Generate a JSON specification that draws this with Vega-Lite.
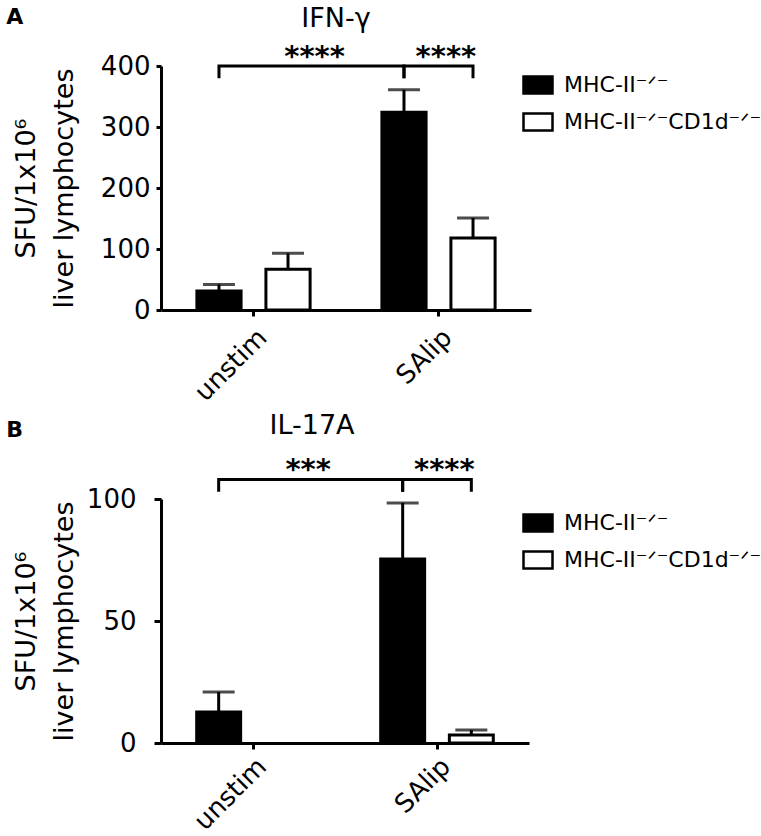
{
  "$schema": "https://vega.github.io/schema/vega-lite/v6.json",
  "padding": {"left": 6, "top": 5, "right": 0, "bottom": 0},
  "config": {
    "font": "DejaVu Sans",
    "view": {"stroke": null},
    "axis": {
      "grid": false,
      "domainColor": "black",
      "domainWidth": 3,
      "tickColor": "black",
      "tickWidth": 3,
      "labelColor": "black",
      "titleColor": "black",
      "labelFontSize": 26,
      "titleFontSize": 27,
      "titleFontWeight": "normal"
    },
    "title": {"fontSize": 27, "fontWeight": "normal", "color": "black"},
    "legend": {
      "orient": "none",
      "title": null,
      "symbolType": "M-1,-0.59H1V0.59H-1Z",
      "symbolSize": 841,
      "symbolStrokeColor": "black",
      "symbolStrokeWidth": 2.5,
      "labelFontSize": 22,
      "labelColor": "black",
      "labelLimit": 400,
      "labelOffset": 10,
      "rowPadding": 7
    }
  },
  "datasets": {
    "ifng": [
      {"group": "unstim", "genotype": "MHC-II⁻ᐟ⁻", "mean": 31, "upper": 42},
      {"group": "unstim", "genotype": "MHC-II⁻ᐟ⁻CD1d⁻ᐟ⁻", "mean": 67, "upper": 93},
      {"group": "SAlip", "genotype": "MHC-II⁻ᐟ⁻", "mean": 324, "upper": 361},
      {"group": "SAlip", "genotype": "MHC-II⁻ᐟ⁻CD1d⁻ᐟ⁻", "mean": 118, "upper": 151}
    ],
    "ifng_brackets": [
      {"bracket": "b1", "ord": 1, "group": "unstim", "genotype": "MHC-II⁻ᐟ⁻", "value": 380},
      {"bracket": "b1", "ord": 2, "group": "unstim", "genotype": "MHC-II⁻ᐟ⁻", "value": 400},
      {"bracket": "b1", "ord": 3, "group": "SAlip", "genotype": "MHC-II⁻ᐟ⁻", "value": 400},
      {"bracket": "b1", "ord": 4, "group": "SAlip", "genotype": "MHC-II⁻ᐟ⁻", "value": 380},
      {"bracket": "b2", "ord": 1, "group": "SAlip", "genotype": "MHC-II⁻ᐟ⁻", "value": 380},
      {"bracket": "b2", "ord": 2, "group": "SAlip", "genotype": "MHC-II⁻ᐟ⁻", "value": 400},
      {"bracket": "b2", "ord": 3, "group": "SAlip", "genotype": "MHC-II⁻ᐟ⁻CD1d⁻ᐟ⁻", "value": 400},
      {"bracket": "b2", "ord": 4, "group": "SAlip", "genotype": "MHC-II⁻ᐟ⁻CD1d⁻ᐟ⁻", "value": 380}
    ],
    "ifng_stars": [
      {"pair": "stim", "group": "unstim", "value": 400, "label": "****"},
      {"pair": "genotype", "group": "SAlip", "value": 400, "label": "****"}
    ],
    "il17": [
      {"group": "unstim", "genotype": "MHC-II⁻ᐟ⁻", "mean": 12.7, "upper": 20.9},
      {"group": "unstim", "genotype": "MHC-II⁻ᐟ⁻CD1d⁻ᐟ⁻", "mean": 0, "upper": 0},
      {"group": "SAlip", "genotype": "MHC-II⁻ᐟ⁻", "mean": 75.4, "upper": 98.4},
      {"group": "SAlip", "genotype": "MHC-II⁻ᐟ⁻CD1d⁻ᐟ⁻", "mean": 3.3, "upper": 5.3}
    ],
    "il17_brackets": [
      {"bracket": "b1", "ord": 1, "group": "unstim", "genotype": "MHC-II⁻ᐟ⁻", "value": 103},
      {"bracket": "b1", "ord": 2, "group": "unstim", "genotype": "MHC-II⁻ᐟ⁻", "value": 108},
      {"bracket": "b1", "ord": 3, "group": "SAlip", "genotype": "MHC-II⁻ᐟ⁻", "value": 108},
      {"bracket": "b1", "ord": 4, "group": "SAlip", "genotype": "MHC-II⁻ᐟ⁻", "value": 103},
      {"bracket": "b2", "ord": 1, "group": "SAlip", "genotype": "MHC-II⁻ᐟ⁻", "value": 103},
      {"bracket": "b2", "ord": 2, "group": "SAlip", "genotype": "MHC-II⁻ᐟ⁻", "value": 108},
      {"bracket": "b2", "ord": 3, "group": "SAlip", "genotype": "MHC-II⁻ᐟ⁻CD1d⁻ᐟ⁻", "value": 108},
      {"bracket": "b2", "ord": 4, "group": "SAlip", "genotype": "MHC-II⁻ᐟ⁻CD1d⁻ᐟ⁻", "value": 103}
    ],
    "il17_stars": [
      {"pair": "stim", "group": "unstim", "value": 108, "label": "***"},
      {"pair": "genotype", "group": "SAlip", "value": 108, "label": "****"}
    ]
  },
  "spacing": 6,
  "resolve": {"scale": {"fill": "independent", "y": "independent", "x": "independent", "xOffset": "independent"}},
  "vconcat": [
    {
      "title": {"text": "A", "anchor": "start", "fontWeight": "bold", "fontSize": 22, "offset": -24, "dx": -6},
      "resolve": {"scale": {"fill": "independent"}},
      "vconcat": [
        {
          "title": {"text": "IFN-γ", "frame": "group", "offset": 10, "dx": -10},
          "width": 370,
          "height": 244,
          "layer": [
            {
              "data": {"name": "ifng"},
              "mark": {"type": "bar", "stroke": "black", "strokeWidth": 3},
              "encoding": {
                "x": {"field": "group", "type": "nominal", "sort": ["unstim", "SAlip"],
                      "scale": {"paddingInner": 0, "paddingOuter": 0},
                      "axis": {"title": null, "labelAngle": -45, "labelFontSize": 26, "tickSize": 6, "labelPadding": 8}},
                "xOffset": {"field": "genotype", "type": "nominal", "sort": ["MHC-II⁻ᐟ⁻", "MHC-II⁻ᐟ⁻CD1d⁻ᐟ⁻"],
                            "scale": {"paddingInner": 0.36, "paddingOuter": 0.52}},
                "y": {"field": "mean", "type": "quantitative", "scale": {"domain": [0, 400], "nice": false},
                      "axis": {"values": [0, 100, 200, 300, 400], "tickSize": 5, "labelPadding": 6,
                               "title": ["SFU/1x10⁶", "liver lymphocytes"], "titlePadding": 22, "titleLineHeight": 38}},
                "fill": {"field": "genotype", "type": "nominal",
                         "scale": {"domain": ["MHC-II⁻ᐟ⁻", "MHC-II⁻ᐟ⁻CD1d⁻ᐟ⁻"], "range": ["black", "white"]},
                         "legend": {"legendX": 361, "legendY": 3}}
              }
            },
            {
              "data": {"name": "ifng"},
              "mark": {"type": "rule", "color": "black", "strokeWidth": 3},
              "encoding": {
                "x": {"field": "group", "type": "nominal", "sort": ["unstim", "SAlip"]},
                "xOffset": {"field": "genotype", "type": "nominal", "sort": ["MHC-II⁻ᐟ⁻", "MHC-II⁻ᐟ⁻CD1d⁻ᐟ⁻"]},
                "y": {"field": "mean", "type": "quantitative", "scale": {"domain": [0, 400], "nice": false}},
                "y2": {"field": "upper"}
              }
            },
            {
              "data": {"name": "ifng"},
              "mark": {"type": "tick", "color": "black", "thickness": 3, "size": 32},
              "encoding": {
                "x": {"field": "group", "type": "nominal", "sort": ["unstim", "SAlip"]},
                "xOffset": {"field": "genotype", "type": "nominal", "sort": ["MHC-II⁻ᐟ⁻", "MHC-II⁻ᐟ⁻CD1d⁻ᐟ⁻"]},
                "y": {"field": "upper", "type": "quantitative", "scale": {"domain": [0, 400], "nice": false}}
              }
            },
            {
              "data": {"name": "ifng_brackets"},
              "mark": {"type": "line", "color": "black", "strokeWidth": 3},
              "encoding": {
                "x": {"field": "group", "type": "nominal", "sort": ["unstim", "SAlip"]},
                "xOffset": {"field": "genotype", "type": "nominal", "sort": ["MHC-II⁻ᐟ⁻", "MHC-II⁻ᐟ⁻CD1d⁻ᐟ⁻"]},
                "y": {"field": "value", "type": "quantitative", "scale": {"domain": [0, 400], "nice": false}},
                "detail": {"field": "bracket"},
                "order": {"field": "ord"}
              }
            },
            {
              "data": {"name": "ifng_stars"},
              "transform": [{"filter": "datum.pair == 'stim'"}],
              "mark": {"type": "text", "fontSize": 29, "fontWeight": "bold", "align": "center", "baseline": "alphabetic"},
              "encoding": {
                "x": {"field": "group", "type": "nominal", "sort": ["unstim", "SAlip"], "bandPosition": 0.83},
                "y": {"field": "value", "type": "quantitative", "scale": {"domain": [0, 400], "nice": false}},
                "text": {"field": "label"}
              }
            },
            {
              "data": {"name": "ifng_stars"},
              "transform": [{"filter": "datum.pair == 'genotype'"}],
              "mark": {"type": "text", "fontSize": 29, "fontWeight": "bold", "align": "center", "baseline": "alphabetic"},
              "encoding": {
                "x": {"field": "group", "type": "nominal", "sort": ["unstim", "SAlip"], "bandPosition": 0.54},
                "y": {"field": "value", "type": "quantitative", "scale": {"domain": [0, 400], "nice": false}},
                "text": {"field": "label"}
              }
            }
          ]
        }
      ]
    },
    {
      "title": {"text": "B", "anchor": "start", "fontWeight": "bold", "fontSize": 22, "offset": -30, "dx": -6},
      "resolve": {"scale": {"fill": "independent"}},
      "vconcat": [
        {
          "title": {"text": "IL-17A", "frame": "group", "offset": 16, "dx": -33},
          "width": 368,
          "height": 244,
          "layer": [
            {
              "data": {"name": "il17"},
              "transform": [{"filter": "datum.mean > 0"}],
              "mark": {"type": "bar", "stroke": "black", "strokeWidth": 3},
              "encoding": {
                "x": {"field": "group", "type": "nominal", "sort": ["unstim", "SAlip"],
                      "scale": {"paddingInner": 0, "paddingOuter": 0},
                      "axis": {"title": null, "labelAngle": -45, "labelFontSize": 26, "tickSize": 6, "labelPadding": 4}},
                "xOffset": {"field": "genotype", "type": "nominal", "sort": ["MHC-II⁻ᐟ⁻", "MHC-II⁻ᐟ⁻CD1d⁻ᐟ⁻"],
                            "scale": {"paddingInner": 0.36, "paddingOuter": 0.52}},
                "y": {"field": "mean", "type": "quantitative", "scale": {"domain": [0, 100], "nice": false},
                      "axis": {"values": [0, 50, 100], "tickSize": 7, "labelPadding": 18,
                               "title": ["SFU/1x10⁶", "liver lymphocytes"], "titlePadding": 8, "titleLineHeight": 38}},
                "fill": {"field": "genotype", "type": "nominal",
                         "scale": {"domain": ["MHC-II⁻ᐟ⁻", "MHC-II⁻ᐟ⁻CD1d⁻ᐟ⁻"], "range": ["black", "white"]},
                         "legend": {"legendX": 361, "legendY": 8}}
              }
            },
            {
              "data": {"name": "il17"},
              "transform": [{"filter": "datum.upper > datum.mean"}],
              "mark": {"type": "rule", "color": "black", "strokeWidth": 3},
              "encoding": {
                "x": {"field": "group", "type": "nominal", "sort": ["unstim", "SAlip"]},
                "xOffset": {"field": "genotype", "type": "nominal", "sort": ["MHC-II⁻ᐟ⁻", "MHC-II⁻ᐟ⁻CD1d⁻ᐟ⁻"]},
                "y": {"field": "mean", "type": "quantitative", "scale": {"domain": [0, 100], "nice": false}},
                "y2": {"field": "upper"}
              }
            },
            {
              "data": {"name": "il17"},
              "transform": [{"filter": "datum.upper > datum.mean"}],
              "mark": {"type": "tick", "color": "black", "thickness": 3, "size": 32},
              "encoding": {
                "x": {"field": "group", "type": "nominal", "sort": ["unstim", "SAlip"]},
                "xOffset": {"field": "genotype", "type": "nominal", "sort": ["MHC-II⁻ᐟ⁻", "MHC-II⁻ᐟ⁻CD1d⁻ᐟ⁻"]},
                "y": {"field": "upper", "type": "quantitative", "scale": {"domain": [0, 100], "nice": false}}
              }
            },
            {
              "data": {"name": "il17_brackets"},
              "mark": {"type": "line", "color": "black", "strokeWidth": 3},
              "encoding": {
                "x": {"field": "group", "type": "nominal", "sort": ["unstim", "SAlip"]},
                "xOffset": {"field": "genotype", "type": "nominal", "sort": ["MHC-II⁻ᐟ⁻", "MHC-II⁻ᐟ⁻CD1d⁻ᐟ⁻"]},
                "y": {"field": "value", "type": "quantitative", "scale": {"domain": [0, 100], "nice": false}},
                "detail": {"field": "bracket"},
                "order": {"field": "ord"}
              }
            },
            {
              "data": {"name": "il17_stars"},
              "transform": [{"filter": "datum.pair == 'stim'"}],
              "mark": {"type": "text", "fontSize": 29, "fontWeight": "bold", "align": "center", "baseline": "alphabetic"},
              "encoding": {
                "x": {"field": "group", "type": "nominal", "sort": ["unstim", "SAlip"], "bandPosition": 0.8},
                "y": {"field": "value", "type": "quantitative", "scale": {"domain": [0, 100], "nice": false}},
                "text": {"field": "label"}
              }
            },
            {
              "data": {"name": "il17_stars"},
              "transform": [{"filter": "datum.pair == 'genotype'"}],
              "mark": {"type": "text", "fontSize": 29, "fontWeight": "bold", "align": "center", "baseline": "alphabetic"},
              "encoding": {
                "x": {"field": "group", "type": "nominal", "sort": ["unstim", "SAlip"], "bandPosition": 0.54},
                "y": {"field": "value", "type": "quantitative", "scale": {"domain": [0, 100], "nice": false}},
                "text": {"field": "label"}
              }
            }
          ]
        }
      ]
    }
  ]
}
